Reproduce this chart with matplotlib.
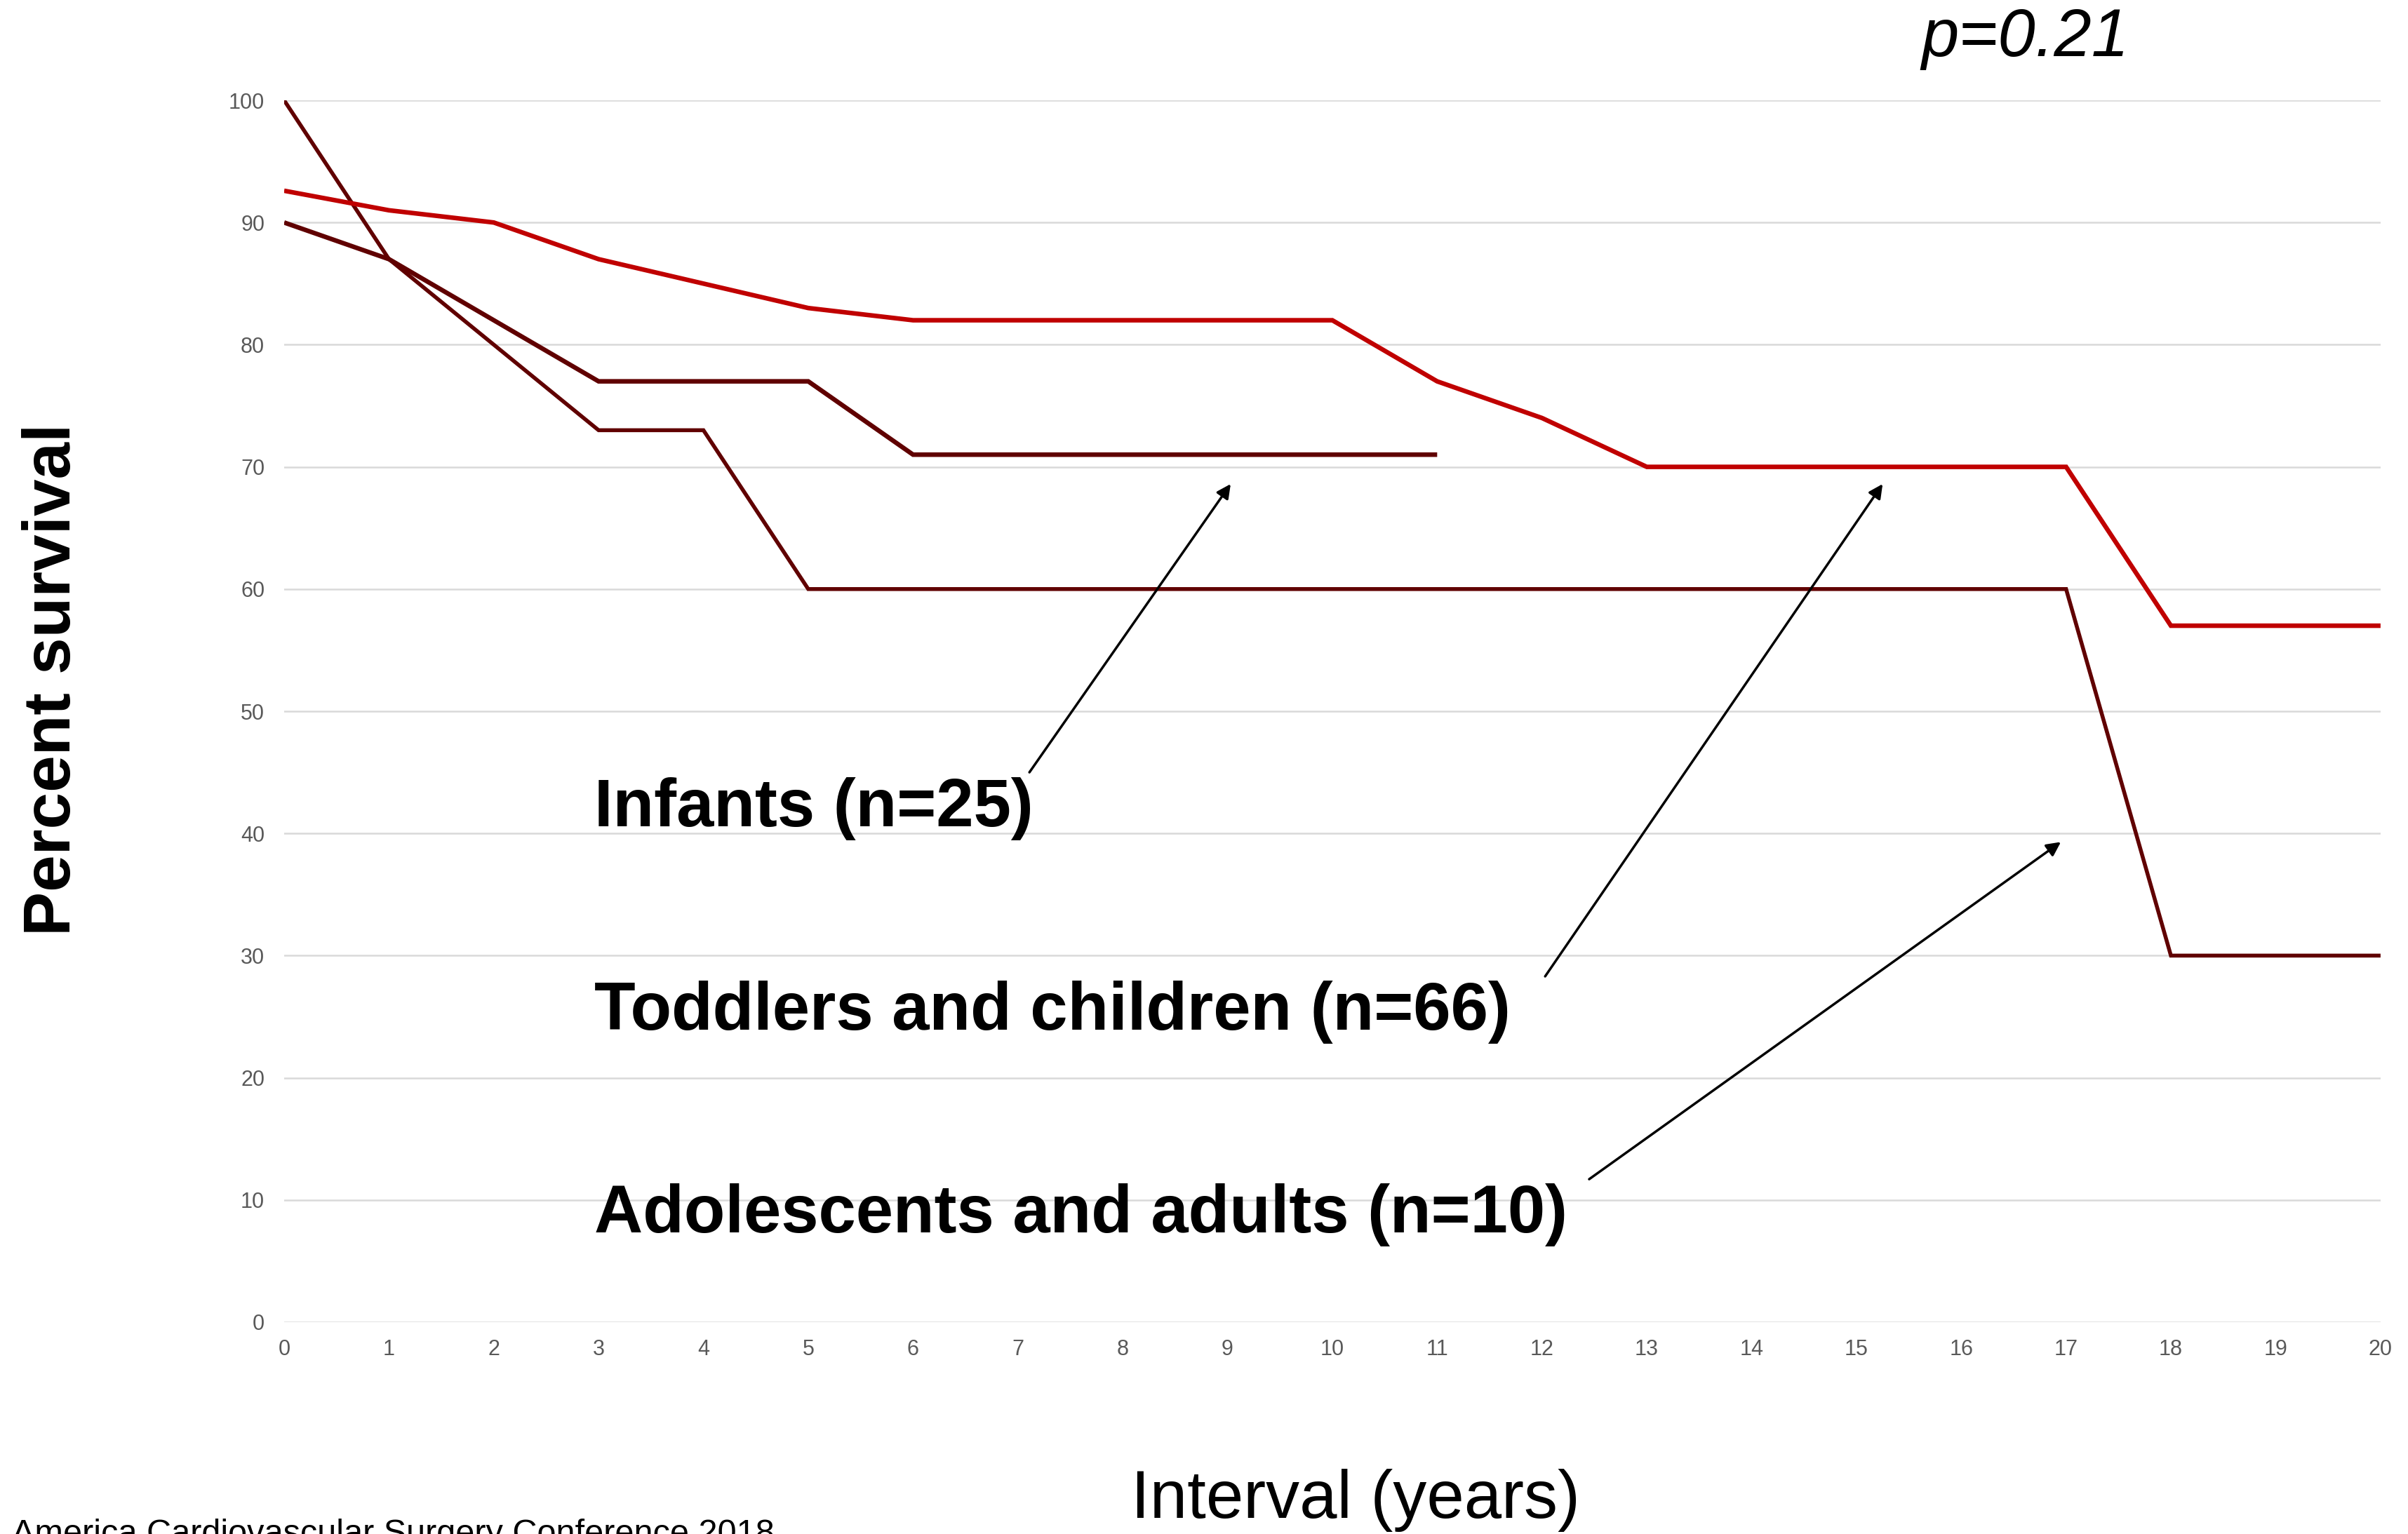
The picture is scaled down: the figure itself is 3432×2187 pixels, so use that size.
import matplotlib
matplotlib.use("Agg")
import matplotlib.pyplot as plt

plt.rcParams["font.family"] = ["Liberation Sans", "DejaVu Sans"]

# ── data ──────────────────────────────────────────────────────────────────────
years = list(range(0, 21))

# toddlers and children: red curve, runs the full 20 years
toddlers = [92.6, 91, 90, 87, 85, 83, 82, 82, 82, 82, 82, 77, 74, 70, 70, 70, 70, 70, 57, 57, 57]

# infants: stops at year 11
infants_years = list(range(0, 12))
infants = [90, 87, 82, 77, 77, 77, 71, 71, 71, 71, 71, 71]

# adolescents and adults
adults = [100, 87, 80, 73, 73, 60, 60, 60, 60, 60, 60, 60, 60, 60, 60, 60, 60, 60, 30, 30, 30]

y_ticks = list(range(0, 101, 10))
x_ticks = list(range(0, 21))

group_labels = ["Infants (n=25)", "Toddlers and children (n=66)", "Adolescents and adults (n=10)"]
label_y = [42.0, 25.4, 8.8]
arrow_tails = [(7.11, 45.0), (12.03, 28.3), (12.45, 11.7)]
arrow_heads = [(9.03, 68.6), (15.25, 68.6), (16.95, 39.3)]

RED = "#c00000"
DARK = "#600000"

# ── plot ──────────────────────────────────────────────────────────────────────
fig = plt.figure(figsize=(34.32, 21.87), dpi=100)
ax = fig.add_axes([0.118, 0.1381, 0.8706, 0.7965])

line_kw = dict(solid_joinstyle="miter", solid_capstyle="butt", zorder=3)
ax.plot(years, adults, color=DARK, linewidth=4.0, **line_kw)
ax.plot(infants_years, infants, color=DARK, linewidth=4.7, **line_kw)
ax.plot(years, toddlers, color=RED, linewidth=4.7, **line_kw)

ax.set_xlim(0, 20)
ax.set_ylim(0, 100)
ax.set_xticks(x_ticks)
ax.set_yticks(y_ticks)
ax.grid(axis="y", color="#d9d9d9", linewidth=1.8)
ax.set_axisbelow(True)
for s in ax.spines.values():
    s.set_visible(False)
ax.tick_params(length=0, labelsize=22, labelcolor="#595959")
ax.tick_params(axis="x", pad=17)
ax.tick_params(axis="y", pad=20)

for label, ly in zip(group_labels, label_y):
    ax.text(2.96, ly, label, fontsize=69, fontweight="bold", va="center", ha="left")

for tail, head in zip(arrow_tails, arrow_heads):
    ax.annotate("", xy=head, xytext=tail,
                arrowprops=dict(arrowstyle="-|>", color="black", lw=2.5,
                                mutation_scale=30, shrinkA=0, shrinkB=0))

fig.text(0.022, 0.557, "Percent survival", rotation=90, fontsize=68, fontweight="bold",
         ha="center", va="center")
fig.text(0.563, 0.022, "Interval (years)", fontsize=69, ha="center", va="center")
fig.text(0.841, 0.975, "p=0.21", fontsize=69, style="italic", ha="center", va="center")
fig.text(0.005, 0.0, "America Cardiovascular Surgery Conference 2018", fontsize=35,
         ha="left", va="center")

fig.savefig("out.png", dpi=100)
